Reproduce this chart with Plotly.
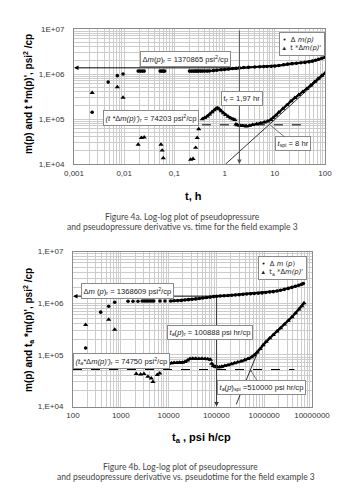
import plotly.graph_objects as go
import math

W, H = 342, 498

# ---------------- Figure 4a : vs time ----------------
# early, scattered points
t_dm_a_early = [0.0023, 0.0048, 0.0073, 0.0095,
                0.019, 0.021, 0.023, 0.025, 0.052, 0.056, 0.060, 0.064]
dm_a_early = [1.41e5, 6.6e5, 9.2e5, 1.0e6,
              1.16e6, 1.16e6, 1.16e6, 1.16e6, 1.16e6, 1.16e6, 1.16e6, 1.16e6]
# dense, continuous record
t_dm_a = [0.20, 0.22, 0.24, 0.26, 0.28, 0.30, 0.33, 0.36, 0.40, 0.45,
          0.5, 0.6, 0.7, 0.85, 1.0, 1.2, 1.45, 1.7, 1.97, 2.4, 3, 4, 5, 6, 7, 8.5,
          10, 12, 15, 18, 22, 27, 33, 40, 48, 56, 65, 75, 87, 100]
dm_a = [1.16e6, 1.16e6, 1.16e6, 1.16e6, 1.16e6, 1.16e6, 1.16e6, 1.16e6, 1.16e6, 1.16e6,
        1.17e6, 1.19e6, 1.21e6, 1.24e6, 1.26e6, 1.29e6, 1.32e6, 1.34e6, 1.37e6, 1.39e6,
        1.41e6, 1.43e6, 1.45e6, 1.46e6, 1.47e6, 1.48e6,
        1.50e6, 1.54e6, 1.60e6, 1.66e6, 1.70e6, 1.74e6, 1.78e6, 1.81e6, 1.86e6,
        1.93e6, 2.02e6, 2.12e6, 2.24e6, 2.36e6]

t_der_a_early = [0.0023, 0.0073, 0.0095,
                 0.019, 0.022, 0.025, 0.054, 0.057, 0.060,
                 0.21, 0.235, 0.265, 0.285, 0.305]
der_a_early = [3.8e5, 5.1e5, 3.0e5,
               2.7e4, 3.8e4, 3.9e4, 2.7e4, 2.0e4, 1.36e4,
               1.25e4, 1.3e4, 2.3e4, 3.8e4, 6.0e4]
t_der_a = [0.36, 0.40, 0.45, 0.50, 0.56, 0.62, 0.68, 0.73, 0.79, 0.86, 0.95, 1.05,
           1.18, 1.32, 1.47, 1.6]
der_a = [1.0e5, 1.06e5, 1.15e5, 1.27e5, 1.42e5, 1.58e5, 1.72e5, 1.75e5, 1.65e5,
         1.5e5, 1.36e5, 1.24e5, 1.13e5, 1.05e5, 1.0e5, 9.6e4]
t_der_a_late = [1.68, 1.8, 2.0, 2.3, 2.7, 3.1, 3.6, 4.3, 5.2, 6.2,
                7.2, 8.3, 9.3, 10.5, 12, 14.5, 17.5, 21, 25, 30, 36, 43, 52, 62, 73, 86, 100]
der_a_late = [7.6e4, 7.3e4, 7.2e4, 7.0e4, 6.9e4, 7.1e4, 7.4e4, 7.7e4, 8.0e4, 8.4e4,
              8.9e4, 9.6e4, 1.07e5, 1.2e5, 1.4e5, 1.7e5, 2.05e5, 2.5e5, 2.95e5, 3.45e5,
              4.0e5, 4.7e5, 5.6e5, 6.7e5, 7.9e5, 9.2e5, 1.05e6]

tr_a = 1.97
dmr_a = 1370865
derr_a = 74203
tspi_a = 8
dash_a_t = [0.013, 42]
slope_a_t = [1.05, 100]
slope_a_v = [1.0e4, 1.0e6]

# ---------------- Figure 4b : vs pseudotime ----------------
ta_dm_b_early = [184, 380, 558, 745,
                 1417, 1800, 2290, 2800, 3100, 3400, 3700, 4100, 4500, 4900, 6600, 8400]
dm_b_early = [1.36e5, 6.7e5, 8.7e5, 1.04e6,
              1.09e6, 1.09e6, 1.09e6, 1.1e6, 1.1e6, 1.1e6, 1.1e6, 1.1e6, 1.1e6, 1.1e6, 1.1e6, 1.1e6]
ta_dm_b = [1.1e4, 1.3e4, 1.55e4, 1.85e4, 2.2e4, 2.6e4, 3.1e4, 3.7e4, 4.4e4, 5.2e4,
           6.2e4, 7.4e4, 8.7e4, 1.01e5, 1.2e5, 1.45e5, 1.75e5, 2.1e5, 2.5e5, 3.0e5,
           3.6e5, 4.3e5, 5.2e5, 6.2e5, 7.5e5, 9.0e5, 1.08e6, 1.3e6, 1.55e6, 1.85e6,
           2.2e6, 2.65e6, 3.2e6, 3.8e6, 4.5e6, 5.3e6, 6.1e6, 6.6e6]
dm_b = [1.1e6, 1.11e6, 1.12e6, 1.13e6, 1.15e6, 1.17e6, 1.19e6, 1.21e6, 1.23e6, 1.26e6,
        1.29e6, 1.31e6, 1.34e6, 1.36e6, 1.38e6, 1.39e6, 1.41e6, 1.42e6, 1.44e6, 1.46e6,
        1.48e6, 1.50e6, 1.52e6, 1.54e6, 1.56e6, 1.58e6, 1.61e6, 1.64e6, 1.67e6, 1.72e6,
        1.78e6, 1.85e6, 1.93e6, 2.02e6, 2.12e6, 2.22e6, 2.32e6, 2.40e6]

ta_der_b_early = [184, 558, 745,
                  2110, 2600, 3050, 3700, 4340, 4720, 5800, 6520]
der_b_early = [3.8e5, 4.8e5, 3.07e5,
               4.3e4, 4.2e4, 4.3e4, 3.8e4, 3.5e4, 3.0e4, 4.1e4, 4.4e4]
ta_der_b = [8000, 9000, 1.0e4, 1.15e4, 1.3e4, 1.5e4, 1.7e4, 1.95e4, 2.2e4, 2.5e4, 2.8e4,
            3.2e4, 3.7e4, 4.3e4, 5.0e4, 5.8e4, 6.6e4, 7.5e4]
der_b = [6.3e4, 6.6e4, 6.8e4, 6.9e4, 7.0e4, 7.0e4, 7.1e4, 7.1e4, 7.3e4, 7.8e4, 8.4e4,
         8.5e4, 8.5e4, 8.4e4, 8.5e4, 8.4e4, 8.3e4, 8.1e4]
ta_der_b_late = [8.0e4, 8.6e4, 9.4e4,
                 1.04e5, 1.16e5, 1.3e5, 1.5e5, 1.75e5, 2.05e5, 2.4e5, 2.8e5, 3.3e5, 3.9e5,
                 4.6e5, 5.4e5, 6.2e5, 7.1e5, 8.2e5, 9.5e5, 1.1e6, 1.3e6, 1.55e6, 1.85e6,
                 2.2e6, 2.65e6, 3.2e6, 3.8e6, 4.5e6, 5.3e6, 6.1e6, 6.8e6]
der_b_late = [6.8e4, 6.1e4, 5.9e4,
              5.8e4, 5.8e4, 5.9e4, 6.1e4, 6.3e4, 6.6e4, 6.9e4, 7.2e4, 7.5e4, 7.9e4,
              8.4e4, 9.0e4, 9.9e4, 1.12e5, 1.3e5, 1.55e5, 1.8e5, 2.1e5, 2.45e5, 2.85e5,
              3.3e5, 3.9e5, 4.6e5, 5.4e5, 6.4e5, 7.6e5, 8.8e5, 1.0e6]

tr_b = 100888
dmr_b = 1368609
derr_b = 74750
dash_b_level = 52000
taspi_b = 510000
dash_b_t = [100, 4.3e6]
slope_b_t = [2.6e5, 7.5e5]
slope_b_v = [1.1e4, 1.2e5]

# tick labels
xa_ticks = [0.001, 0.01, 0.1, 1, 10, 100]
xa_text = ["0,001", "0,01", "0,1", "1", "10", "100"]
xb_ticks = [100, 1000, 10000, 100000, 1000000, 10000000]
xb_text = ["100", "1000", "10000", "100000", "1000000", "10000000"]
y_ticks = [1e4, 1e5, 1e6, 1e7]
ya_text = ["1,E+04", "1,E+05", "1,E+06", "1E+07"]
yb_text = ["1,E+04", "1,E+05", "1,E+06", "1,E+07"]

# ---------------- helpers (layout only) ----------------
def PX(x):
    return x / W

def PY(y):
    return 1 - y / H

def L(v):
    return math.log10(v)

def minor_vals(lo, hi):
    vals = []
    for e in range(lo, hi):
        for k in range(2, 10):
            vals.append(k * 10.0 ** e)
    return vals

TICKFONT = dict(family="Liberation Sans", size=8, color="#333")
GRID = "#cccccc"
BORDER = "#8a8a8a"

fig = go.Figure()

circ = dict(symbol="circle", size=3.6, color="black")
tri = dict(symbol="triangle-up", size=4.6, color="black")

def pts(x, y, marker, xa, ya):
    fig.add_trace(go.Scatter(x=x, y=y, mode="markers", marker=marker, showlegend=False,
                             xaxis=xa, yaxis=ya))

def band(x, y, marker, xa, ya):
    fig.add_trace(go.Scatter(x=x, y=y, mode="lines+markers", marker=marker,
                             line=dict(color="black", width=2.2), showlegend=False,
                             xaxis=xa, yaxis=ya))

def line(x, y, xa, ya, dash="solid", width=0.8):
    fig.add_trace(go.Scatter(x=x, y=y, mode="lines", line=dict(color="black", width=width, dash=dash),
                             showlegend=False, xaxis=xa, yaxis=ya))

# --- chart a ---
line(dash_a_t, [derr_a, derr_a], "x", "y", dash="dash", width=1)
line(slope_a_t, slope_a_v, "x", "y")
pts(t_dm_a_early, dm_a_early, circ, "x", "y")
band(t_dm_a, dm_a, circ, "x", "y")
pts(t_der_a_early, der_a_early, tri, "x", "y")
band(t_der_a, der_a, tri, "x", "y")
band(t_der_a_late, der_a_late, tri, "x", "y")

# --- chart b ---
line(dash_b_t, [dash_b_level, dash_b_level], "x2", "y2", dash="dash", width=1)
line(slope_b_t, slope_b_v, "x2", "y2")
pts(ta_dm_b_early, dm_b_early, circ, "x2", "y2")
band(ta_dm_b, dm_b, circ, "x2", "y2")
pts(ta_der_b_early, der_b_early, tri, "x2", "y2")
band(ta_der_b, der_b, tri, "x2", "y2")
band(ta_der_b_late, der_b_late, tri, "x2", "y2")

def axis(dom, rng, vals, labs, standoff, anchor, mlo, mhi):
    return dict(type="log", range=rng, domain=dom, anchor=anchor, tickmode="array", tickvals=vals,
                ticktext=labs, showgrid=True, gridcolor=GRID, gridwidth=0.7,
                minor=dict(tickmode="array", tickvals=minor_vals(mlo, mhi), showgrid=True,
                           gridcolor=GRID, gridwidth=0.6, ticks=""),
                zeroline=False, showline=True, linecolor=BORDER, linewidth=1, mirror=True,
                ticks="", tickfont=TICKFONT, ticklabelstandoff=standoff, automargin=False,
                fixedrange=True)

layout = dict(
    width=W, height=H, margin=dict(l=0, r=0, t=0, b=0), autosize=False,
    paper_bgcolor="white", plot_bgcolor="white", template="none", showlegend=False,
    xaxis=axis([PX(66), PX(317)], [-3, 2], xa_ticks, xa_text, 1, "y", -3, 2),
    yaxis=axis([PY(156), PY(21)], [4, 7], y_ticks, ya_text, 7, "x", 4, 7),
    xaxis2=axis([PX(65), PX(304)], [2, 7], xb_ticks, xb_text, 1, "y2", 2, 7),
    yaxis2=axis([PY(398.5), PY(243.5)], [4, 7], y_ticks, yb_text, 7, "x2", 4, 7),
)
fig.update_layout(**layout)

ann = []
# arrow lines (drawn through the axes' scales)
def arrow(x, y, ax, ay, xr, yr, head=2, color="black", width=1):
    ann.append(dict(x=x, y=y, ax=ax, ay=ay, xref=xr, yref=yr, axref=xr, ayref=yr,
                    text="", showarrow=True, arrowhead=head, arrowsize=0.9,
                    arrowwidth=width, arrowcolor=color, standoff=0))

arrow(-3, L(dmr_a), L(tr_a), L(dmr_a), "x", "y")
arrow(L(tr_a), 4, L(tr_a), 7, "x", "y", color="#555")
arrow(2, L(dmr_b), L(tr_b), L(dmr_b), "x2", "y2")
arrow(L(tr_b), 4, L(tr_b), L(dmr_b), "x2", "y2", color="#333")

BOXFONT = dict(family="Liberation Sans", size=7.6, color="#222")

def box(text, cx, cy):
    ann.append(dict(x=PX(cx), y=PY(cy), xref="paper", yref="paper", text=text,
                    showarrow=False, font=BOXFONT, bgcolor="white", bordercolor=BORDER,
                    borderwidth=1, borderpad=1.5, xanchor="center", yanchor="middle"))

box("Δ<i>m</i>(<i>p</i>)<sub>r</sub> = 1370865 psi<sup>2</sup>/cp", 177, 51)
box("t<sub>r</sub> = 1,97 hr", 234, 90)
box("<i>(t *</i>Δ<i>m(p)')</i><sub>r</sub> = 74203 psi<sup>2</sup>/cp", 143, 110.5)
ann.append(dict(x=L(tspi_a), y=L(derr_a), xref="x", yref="y", ax=23, ay=19,
                text="<i>t</i><sub>spi</sub> = 8 hr", showarrow=True, arrowhead=0,
                arrowwidth=0.8, arrowcolor="#555", font=BOXFONT, bgcolor="white",
                bordercolor=BORDER, borderwidth=1, borderpad=1.5))

box("Δ<i>m</i> (<i>p</i>)<sub>r</sub> = 1368609 psi<sup>2</sup>/cp", 119, 282.5)
box("<i>t<sub>a</sub></i>(<i>p</i>)<sub>r</sub> = 100888 psi hr/cp", 202, 324)
box("<i>(t<sub>a</sub>*</i>Δ<i>m(p)')</i><sub>r</sub> = 74750 psi<sup>2</sup>/cp", 113, 353)
ann.append(dict(x=L(taspi_b), y=L(dash_b_level), xref="x2", yref="y2", ax=11, ay=18,
                text="<i>t<sub>a</sub></i>(<i>p</i>)<sub>spi</sub> =510000 psi hr/cp", showarrow=True,
                arrowhead=2, arrowsize=0.6, arrowwidth=0.8, arrowcolor="#555", font=BOXFONT,
                bgcolor="white", bordercolor=BORDER, borderwidth=1, borderpad=1.5))

# legends (series keys)
LEGFONT = dict(family="DejaVu Sans", size=6.8, color="#222")

def legend_box(text, rx, ty):
    ann.append(dict(x=PX(rx), y=PY(ty), xref="paper", yref="paper", text=text, align="left",
                    showarrow=False, font=LEGFONT, bgcolor="white", bordercolor=BORDER,
                    borderwidth=1, borderpad=2.5, xanchor="right", yanchor="top"))

legend_box("•  Δ <i>m(p)</i><br>▴  t *Δ<i>m(p)</i>'", 317, 23.5)
legend_box("•  Δ <i>m</i> (<i>p</i>)<br>▴  t<sub>a</sub> *Δ<i>m(p)</i>'", 299, 248)

TITLEFONT = dict(family="Liberation Sans", size=10, color="black")

def title(text, cx, cy, angle=0, size=10):
    f = dict(TITLEFONT)
    f["size"] = size
    ann.append(dict(x=PX(cx), y=PY(cy), xref="paper", yref="paper", text="<b>" + text + "</b>",
                    showarrow=False, font=f, textangle=angle, xanchor="center", yanchor="middle"))

title("m(p) and t *m(p)', psi<sup>2</sup> /cp", 20, 86, -90)
title("t, h", 185, 188, 0, 11)
title("m(p) and t<sub>a</sub> *m(p)', psi<sup>2</sup> /cp", 20, 322, -90)
title("t<sub>a</sub> , psi h/cp", 193, 430, 0, 11)

CAPFONT = dict(family="Lato", size=8.5, color="#444")

def cap(text, cx, cy):
    ann.append(dict(x=PX(cx), y=PY(cy), xref="paper", yref="paper", text=text,
                    showarrow=False, font=CAPFONT, xanchor="center", yanchor="middle"))

cap("Figure 4a. Log-log plot of pseudopressure", 174, 209)
cap("and pseudopressure derivative vs. time for the field example 3", 174, 219)
cap("Figure 4b. Log-log plot of pseudopressure", 172, 459)
cap("and pseudopressure derivative vs. pseudotime for the field example 3", 178, 469)

fig.update_layout(annotations=ann)
fig.write_html("out.html")
